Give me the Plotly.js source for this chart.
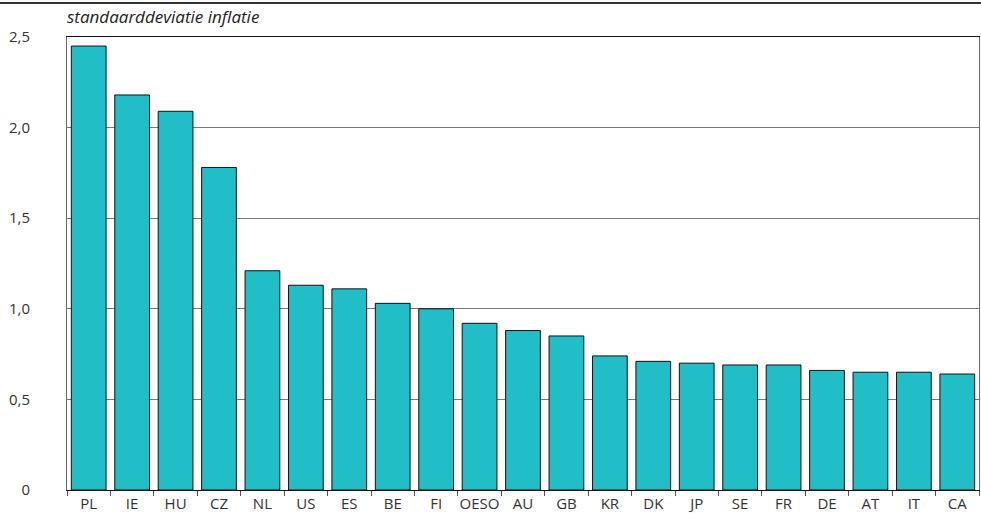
<!DOCTYPE html>
<html>
<head>
<meta charset="utf-8">
<script src="https://cdn.plot.ly/plotly-3.0.1.min.js"></script>
<style>html,body{margin:0;padding:0;background:#fff}#chart{width:981px;height:517px}</style>
</head>
<body>
<div id="chart"></div>
<script>
const countries = ["PL","IE","HU","CZ","NL","US","ES","BE","FI","OESO","AU","GB","KR","DK","JP","SE","FR","DE","AT","IT","CA"];
const stdInflation = [2.45,2.18,2.09,1.78,1.21,1.13,1.11,1.03,1.00,0.92,0.88,0.85,0.74,0.71,0.70,0.69,0.69,0.66,0.65,0.65,0.64];
const yTickVals = [0,0.5,1,1.5,2,2.5];
const yTickText = ["0","0,5","1,0","1,5","2,0","2,5"];
const titleText = "standaarddeviatie inflatie";

const trace = {
  type: "bar",
  x: countries,
  y: stdInflation,
  marker: {color: "#21bec8", line: {color: "#111", width: 1}},
  hoverinfo: "x+y"
};

const layout = {
  width: 981, height: 517,
  margin: {l: 67, r: 2, t: 37, b: 27, pad: 0},
  paper_bgcolor: "#fff", plot_bgcolor: "#fff",
  separators: ",.",
  bargap: 0.2,
  showlegend: false,
  font: {family: "Open Sans, sans-serif", size: 14, color: "#333"},
  title: {
    text: "<i>" + titleText + "</i>",
    x: 67/981, xanchor: "left", xref: "container",
    y: 1 - 17/517, yanchor: "middle", yref: "container",
    font: {family: "Open Sans, sans-serif", size: 17, color: "#222"}
  },
  xaxis: {
    type: "category",
    showline: true, linecolor: "#111", linewidth: 1, mirror: true,
    ticks: "outside", tickson: "boundaries", ticklen: 5, tickcolor: "#555",
    showgrid: false,
    tickangle: 0,
    tickfont: {size: 15, color: "#333"},
    fixedrange: true
  },
  yaxis: {
    range: [0, 2.5],
    tickvals: yTickVals, ticktext: yTickText,
    showgrid: true, gridcolor: "#7a7a7a", gridwidth: 1,
    showline: true, linecolor: "#666", linewidth: 1, mirror: true,
    ticks: "", zeroline: false,
    ticklabelstandoff: 33,
    tickfont: {size: 15, color: "#333"},
    fixedrange: true
  },
  shapes: [{
    type: "line", xref: "paper", yref: "paper",
    x0: -67/912, x1: 1 + 2/912,
    y0: 1 + 34/453, y1: 1 + 34/453,
    line: {color: "#333", width: 2}
  }]
};

Plotly.newPlot("chart", [trace], layout, {displayModeBar: false, staticPlot: true});
</script>
</body>
</html>
